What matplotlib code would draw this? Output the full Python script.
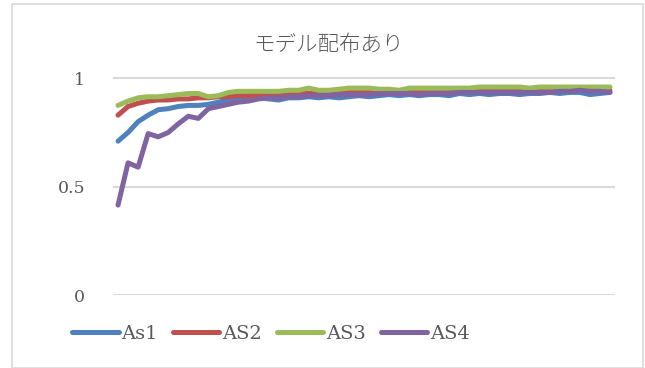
import matplotlib.pyplot as plt
from matplotlib.patches import Rectangle

title = "モデル配布あり"
series_names = ["As1", "AS2", "AS3", "AS4"]
colors = ["#4F81BD", "#C0504D", "#9BBB59", "#8064A2"]

as1 = [0.71, 0.75, 0.80, 0.83, 0.855, 0.86, 0.87, 0.875, 0.875, 0.88,
       0.89, 0.90, 0.905, 0.905, 0.91, 0.905, 0.90, 0.91, 0.91, 0.915,
       0.91, 0.915, 0.91, 0.915, 0.92, 0.915, 0.92, 0.925, 0.92, 0.925,
       0.92, 0.925, 0.925, 0.92, 0.93, 0.925, 0.93, 0.925, 0.93, 0.93,
       0.925, 0.93, 0.93, 0.935, 0.93, 0.935, 0.935, 0.925, 0.93, 0.935]
as2 = [0.83, 0.87, 0.885, 0.895, 0.90, 0.90, 0.905, 0.905, 0.91, 0.91,
       0.915, 0.915, 0.92, 0.92, 0.925, 0.92, 0.92, 0.925, 0.93, 0.93,
       0.93, 0.935, 0.935, 0.935, 0.935, 0.935, 0.935, 0.935, 0.94, 0.94,
       0.935, 0.94, 0.94, 0.94, 0.94, 0.94, 0.94, 0.94, 0.945, 0.945,
       0.945, 0.945, 0.945, 0.945, 0.945, 0.95, 0.95, 0.95, 0.945, 0.945]
as3 = [0.875, 0.895, 0.91, 0.915, 0.915, 0.92, 0.925, 0.93, 0.93, 0.915,
       0.92, 0.935, 0.94, 0.94, 0.94, 0.94, 0.94, 0.945, 0.945, 0.955,
       0.945, 0.945, 0.95, 0.955, 0.955, 0.955, 0.95, 0.95, 0.945, 0.955,
       0.955, 0.955, 0.955, 0.955, 0.955, 0.955, 0.96, 0.96, 0.96, 0.96,
       0.96, 0.955, 0.96, 0.96, 0.96, 0.96, 0.96, 0.96, 0.96, 0.96]
as4 = [0.415, 0.61, 0.59, 0.745, 0.73, 0.75, 0.79, 0.825, 0.815, 0.86,
       0.87, 0.88, 0.89, 0.895, 0.905, 0.91, 0.91, 0.915, 0.915, 0.92,
       0.92, 0.92, 0.925, 0.925, 0.925, 0.925, 0.93, 0.93, 0.93, 0.93,
       0.925, 0.93, 0.93, 0.93, 0.935, 0.935, 0.935, 0.935, 0.935, 0.935,
       0.935, 0.935, 0.935, 0.935, 0.94, 0.94, 0.945, 0.94, 0.94, 0.935]
yticks = [0, 0.5, 1]
ytick_labels = ["0", "0.5", "1"]

text_color = "#595959"
serif = ["DejaVu Serif"]

fig = plt.figure(figsize=(6.45, 3.68), dpi=100)
fig.patches.append(Rectangle((12 / 645, 0), 631 / 645, 364 / 368,
                             transform=fig.transFigure, fill=False,
                             edgecolor="#D9D9D9", linewidth=1.2))

ax = fig.add_axes([113 / 645, 73 / 368, 502 / 645, 260 / 368])
x = list(range(len(as1)))
for name, vals, c in zip(series_names, [as1, as2, as3, as4], colors):
    ax.plot(x, vals, color=c, linewidth=3.6, solid_capstyle="round",
            solid_joinstyle="round", label=name)

ax.set_xlim(-0.5, len(as1) - 0.5)
ax.set_ylim(0, 1.2)
ax.set_yticks(yticks)
ax.set_yticklabels(ytick_labels, family=serif, fontsize=12.5, color=text_color)
ax.set_xticks([])
ax.tick_params(axis="y", length=0, pad=20)
ax.grid(axis="y", color="#D9D9D9", linewidth=1.5)
ax.set_axisbelow(True)
for s in ax.spines.values():
    s.set_visible(False)

fig.text(329 / 645, 1 - 45 / 368, title, ha="center", va="center",
         family=["Noto Sans CJK JP", "DejaVu Sans"], fontsize=15.5,
         fontweight="light", color=text_color)

leg = fig.legend(loc="center", bbox_to_anchor=(271 / 645, 1 - 334 / 368),
                 ncol=4, frameon=False, handlelength=2.4, handletextpad=0.15,
                 columnspacing=0.75,
                 prop={"family": serif, "size": 14})
for t in leg.get_texts():
    t.set_color(text_color)

fig.savefig("out.png", dpi=100)
